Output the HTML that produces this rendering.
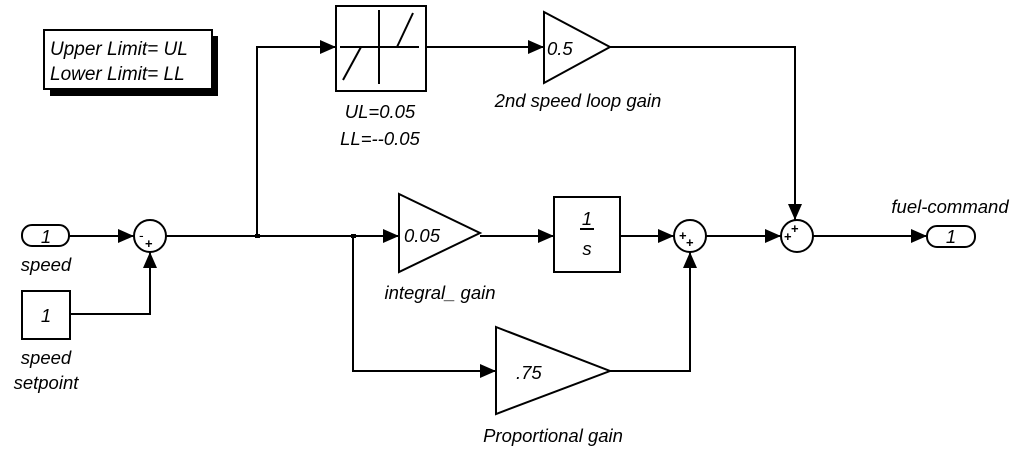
<!DOCTYPE html>
<html><head><style>
html,body{margin:0;padding:0;background:#fff;}
svg{display:block;}
text{font-family:"Liberation Sans",sans-serif;font-style:italic;font-size:18.5px;fill:#000;}
</style></head><body>
<svg width="1024" height="451" viewBox="0 0 1024 451" xmlns="http://www.w3.org/2000/svg">
<defs>
<marker id="a" markerWidth="17" markerHeight="14" refX="16" refY="7" orient="auto" markerUnits="userSpaceOnUse">
<path d="M0,0 L16,7 L0,14 z" fill="#000"/>
</marker>
</defs>
<g fill="none" stroke="#000" stroke-width="2">
<rect x="50" y="36" width="168" height="60" fill="#000" stroke="none"/>
<rect x="44" y="30" width="168" height="59" fill="#fff"/>
<rect x="22" y="225" width="47" height="21" rx="10" fill="#fff"/>
<rect x="22" y="291" width="48" height="48"/>
<circle cx="150" cy="236" r="16"/>
<circle cx="690" cy="236" r="16"/>
<circle cx="797" cy="236" r="16"/>
<rect x="336" y="6" width="90" height="85"/>
<line x1="340" y1="47" x2="419" y2="47"/>
<line x1="379" y1="10" x2="379" y2="84"/>
<line x1="343" y1="80" x2="361" y2="47"/>
<line x1="397" y1="47" x2="413" y2="13"/>
<polygon points="544,12 610,47 544,83"/>
<polygon points="399,194 480,233 399,272"/>
<polygon points="496,327 610,371 496,414"/>
<rect x="554" y="197" width="66" height="75"/>
<rect x="927" y="226" width="48" height="21" rx="10" fill="#fff"/>
<line x1="69" y1="236" x2="134" y2="236" marker-end="url(#a)"/>
<polyline points="70,314 150,314 150,252" marker-end="url(#a)"/>
<line x1="166" y1="236" x2="399" y2="236" marker-end="url(#a)"/>
<polyline points="257,236 257,47 336,47" marker-end="url(#a)"/>
<line x1="426" y1="47" x2="544" y2="47" marker-end="url(#a)"/>
<polyline points="610,47 795,47 795,220" marker-end="url(#a)"/>
<polyline points="353,236 353,371 496,371" marker-end="url(#a)"/>
<line x1="480" y1="236" x2="554" y2="236" marker-end="url(#a)"/>
<line x1="620" y1="236" x2="674" y2="236" marker-end="url(#a)"/>
<polyline points="610,371 690,371 690,252" marker-end="url(#a)"/>
<line x1="706" y1="236" x2="781" y2="236" marker-end="url(#a)"/>
<line x1="813" y1="236" x2="927" y2="236" marker-end="url(#a)"/>
<line x1="580" y1="229" x2="594" y2="229"/>
</g>
<rect x="255" y="234" width="5" height="4" fill="#000"/>
<rect x="351" y="234" width="5" height="4" fill="#000"/>
<text x="139" y="240" style="font-size:14px;font-style:normal">-</text>
<text x="145" y="248" style="font-size:13px;font-style:normal;font-weight:bold">+</text>
<text x="679" y="240" style="font-size:13px;font-style:normal;font-weight:bold">+</text>
<text x="686" y="247" style="font-size:13px;font-style:normal;font-weight:bold">+</text>
<text x="784" y="241" style="font-size:13px;font-style:normal;font-weight:bold">+</text>
<text x="791" y="233" style="font-size:13px;font-style:normal;font-weight:bold">+</text>
<text x="50" y="55" style="font-size:19px">Upper Limit= UL</text>
<text x="50" y="80" style="font-size:19px">Lower Limit= LL</text>
<text x="46" y="243" text-anchor="middle">1</text>
<text x="46" y="271" text-anchor="middle">speed</text>
<text x="46" y="322" text-anchor="middle">1</text>
<text x="46" y="364" text-anchor="middle">speed</text>
<text x="46" y="389" text-anchor="middle">setpoint</text>
<text x="380" y="118" text-anchor="middle">UL=0.05</text>
<text x="380" y="145" text-anchor="middle">LL=--0.05</text>
<text x="547" y="55">0.5</text>
<text x="578" y="107" text-anchor="middle">2nd speed loop gain</text>
<text x="404" y="242">0.05</text>
<text x="440" y="299" text-anchor="middle">integral_ gain</text>
<text x="587" y="225" text-anchor="middle">1</text>
<text x="587" y="255" text-anchor="middle">s</text>
<text x="516" y="379">.75</text>
<text x="553" y="442" text-anchor="middle">Proportional gain</text>
<text x="950" y="213" text-anchor="middle">fuel-command</text>
<text x="951" y="243" text-anchor="middle">1</text>
</svg>
</body></html>
